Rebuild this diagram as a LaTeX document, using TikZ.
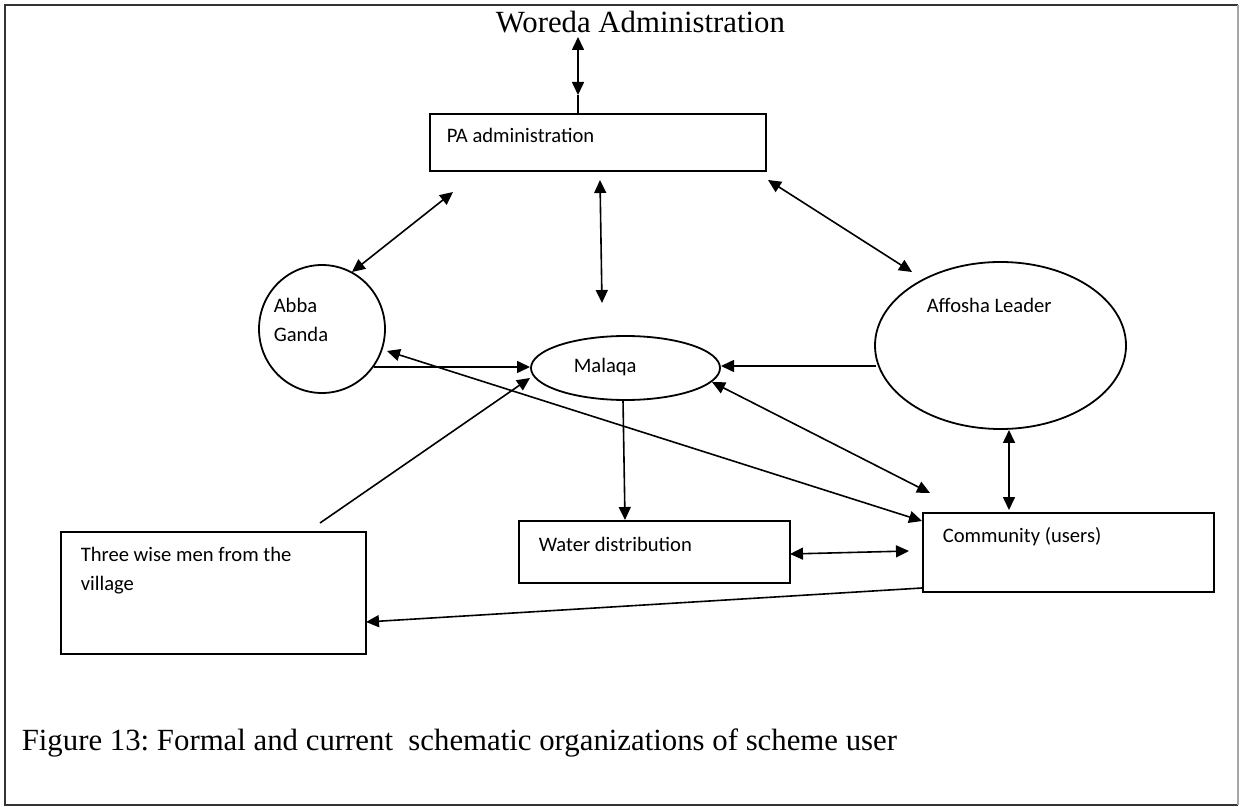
\documentclass[tikz,border=0pt]{standalone}
\usepackage{fontspec}
\setmainfont{Liberation Serif}
\newfontfamily\calib{Carlito}
\usetikzlibrary{arrows.meta,shapes.geometric}
\frenchspacing
\begin{document}
\begin{tikzpicture}[x=0.5pt,y=-0.5pt,
  line width=0.8pt,
  box/.style={draw,line width=0.9pt,rectangle,inner sep=0pt,anchor=north west},
  oval/.style={draw,line width=0.9pt,ellipse,inner sep=0pt},
  lbl/.style={anchor=base west,inner sep=0pt,font=\calib\fontsize{10.3}{14.5}\selectfont},
  ttl/.style={anchor=base west,inner sep=0pt,font=\fontsize{15.4}{18}\selectfont},
  tip/.style={-{Triangle[length=6.5pt,width=6pt]}},
  dbl/.style={{Triangle[length=6.5pt,width=6pt]}-{Triangle[length=6.5pt,width=6pt]}}]
\useasboundingbox (0,0) rectangle (1242,807);
% frame
\draw[line width=1pt,black!80] (1238,5) -- (5,5) -- (5,805) -- (1238,805);
\draw[line width=1pt,black!35] (1238,5) -- (1238,805);

% shapes
\node[box,minimum width=168pt,minimum height=28.5pt] (pa) at (429,113) {};
\node[box,minimum width=135.5pt,minimum height=31pt] (water) at (518,520) {};
\node[box,minimum width=145.5pt,minimum height=39.5pt] (comm) at (922,512) {};
\node[box,minimum width=152.5pt,minimum height=61pt] (wise) at (60,531) {};
\node[oval,minimum width=63pt,minimum height=64pt] (abba) at (322,329) {};
\node[oval,minimum width=94.5pt,minimum height=32pt] (malaqa) at (625.5,368) {};
\node[oval,minimum width=125.5pt,minimum height=83.5pt] (affosha) at (1000.5,345.5) {};

% texts
\node[ttl] (wor) at (495,33) {Woreda Administration};
\node[lbl] (tpa) at (446,143) {PA administration};
\node[lbl] (tabba1) at (273,313) {Abba};
\node[lbl] (tabba2) at (273,342) {Ganda};
\node[lbl] (tmal) at (573,373) {Malaqa};
\node[lbl] (taff) at (926,313) {Affosha Leader};
\node[lbl] (twat) at (538,551) {Water distribution};
\node[lbl] (tcomm) at (942,542) {Community (users)};
\node[lbl] (twise1) at (80,561) {Three wise men from the};
\node[lbl] (twise2) at (80,590) {village};
\node[ttl] (cap) at (21,750) {Figure 13: Formal and current~ schematic organizations of scheme user};

% connector end points
\coordinate (w1) at (578,37);
\coordinate (w2) at (578,95);
\coordinate (pa1) at (453,192);
\coordinate (ab1) at (352,272);
\coordinate (pa2) at (600,180);
\coordinate (ma1) at (602,303);
\coordinate (pa3) at (768,180);
\coordinate (af1) at (912,272);
\coordinate (ab2) at (374,367);
\coordinate (ma2) at (530,367);
\coordinate (af2) at (876,366);
\coordinate (ma3) at (721,366);
\coordinate (wi1) at (320,523);
\coordinate (ma4) at (530,378);
\coordinate (ma5) at (712,382);
\coordinate (co1) at (930,493);
\coordinate (ab3) at (387,351);
\coordinate (co2) at (922,521);
\coordinate (ma6) at (623,400);
\coordinate (wa1) at (625,520);
\coordinate (wa2) at (790,554);
\coordinate (co3) at (909,551);
\coordinate (af3) at (1009,430);
\coordinate (co4) at (1009,510);
\coordinate (co5) at (922,588);
\coordinate (wi2) at (366,622);

% connectors
\draw[dbl] (w1) -- (w2);
\draw (w2) -- (w2 |- pa.north);
\draw[dbl] (pa1) -- (ab1);
\draw[dbl] (pa2) -- (ma1);
\draw[dbl] (pa3) -- (af1);
\draw[tip] (ab2) -- (ma2);
\draw[tip] (af2) -- (ma3);
\draw[tip] (wi1) -- (ma4);
\draw[dbl] (ma5) -- (co1);
\draw[dbl] (ab3) -- (co2);
\draw[tip] (ma6) -- (wa1);
\draw[dbl] (wa2) -- (co3);
\draw[dbl] (af3) -- (co4);
\draw[tip] (co5) -- (wi2);
\end{tikzpicture}
\end{document}
